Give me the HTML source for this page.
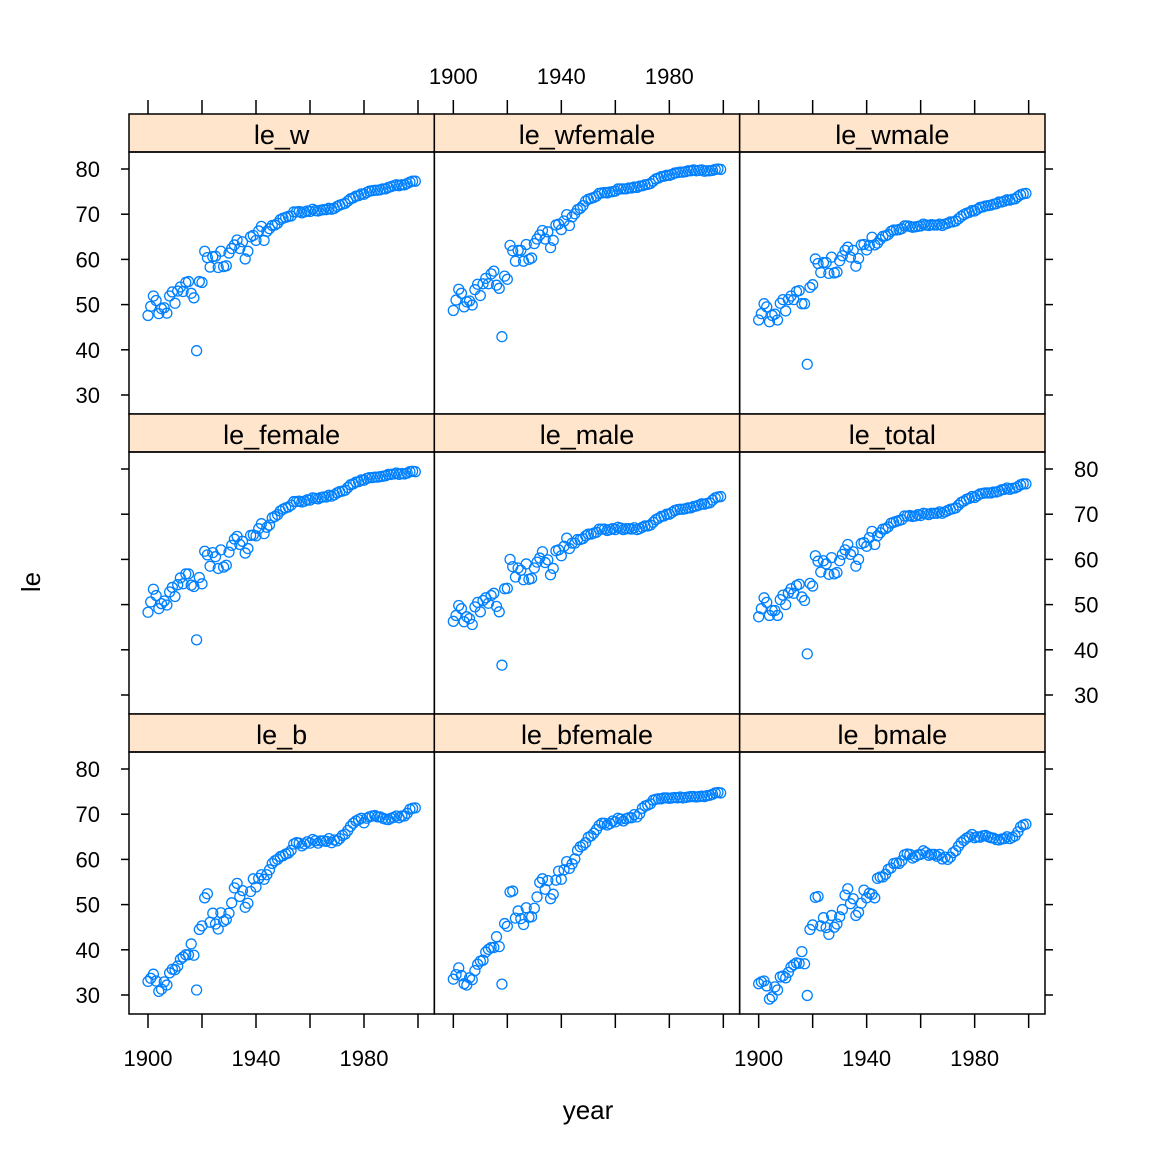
<!DOCTYPE html>
<html><head><meta charset="utf-8"><style>
html,body{margin:0;padding:0;background:#fff;}
svg text{font-family:"Liberation Sans",Arial,sans-serif;fill:#000;}
</style></head><body>
<svg id="chart" width="1152" height="1152" xmlns="http://www.w3.org/2000/svg">
<rect width="1152" height="1152" fill="#fff"/>
<text x="0" y="0" font-size="26" text-anchor="middle" transform="translate(40,582) rotate(-90)">le</text>
<text x="588" y="1119" font-size="26" text-anchor="middle">year</text>
</svg>
<script>
const panelNames = ["le_w","le_wfemale","le_wmale","le_female","le_male","le_total","le_b","le_bfemale","le_bmale"];
const xTicks = [1900,1920,1940,1960,1980,2000];
const xTickLabels = ["1900","","1940","","1980",""];
const yTicks = [30,40,50,60,70,80];
const le_w = [47.6,49.6,51.9,50.9,48.0,49.1,49.3,48.1,51.9,52.8,50.3,53.0,53.9,52.9,54.9,55.1,52.5,51.5,39.8,55.1,54.9,61.8,60.4,58.3,60.6,60.7,58.2,61.8,58.4,58.6,61.4,62.4,63.2,64.3,62.4,63.9,60.1,61.8,65.0,65.3,64.2,66.3,67.3,64.2,66.2,66.8,67.5,67.6,68.0,68.8,69.1,69.3,69.5,69.6,70.5,70.5,70.6,70.3,70.5,70.7,70.6,71.1,70.8,70.7,70.9,71.0,71.0,71.3,71.1,71.3,71.7,72.0,72.2,72.4,72.9,73.4,73.6,74.0,74.1,74.5,74.4,74.8,75.1,75.2,75.3,75.3,75.4,75.6,75.6,75.9,76.1,76.3,76.5,76.3,76.5,76.5,76.8,77.1,77.3,77.3];
const le_wfemale = [48.7,51.0,53.4,52.5,49.5,50.6,50.8,49.9,53.3,54.5,52.0,54.6,55.8,54.6,56.8,57.4,54.3,53.6,42.9,56.3,55.6,63.1,61.9,59.6,62.0,62.0,59.6,63.3,60.0,60.3,63.5,64.5,65.4,66.4,64.5,66.1,62.6,64.2,67.6,67.8,66.6,68.5,69.9,67.5,69.4,70.1,71.0,71.3,71.9,72.9,73.3,73.5,73.7,74.0,74.6,74.7,74.8,74.7,74.9,75.0,75.1,75.6,75.6,75.6,75.6,75.8,75.8,76.0,75.9,76.2,76.3,76.5,76.6,76.8,77.3,77.8,78.0,78.3,78.4,78.6,78.6,78.8,79.1,79.2,79.3,79.3,79.4,79.6,79.6,79.8,79.6,79.7,79.8,79.5,79.6,79.6,79.7,79.9,80.0,79.9];
const le_wmale = [46.6,48.0,50.2,49.5,46.2,47.6,47.9,46.6,50.3,51.1,48.6,51.1,51.9,51.1,52.9,53.1,50.2,50.2,36.8,53.8,54.4,60.1,59.1,57.1,59.3,59.3,56.9,60.5,57.0,57.2,59.7,60.8,62.0,62.7,60.5,62.0,58.5,60.2,63.2,63.3,62.1,63.1,64.9,63.2,63.6,64.4,65.1,65.2,65.5,66.2,66.5,66.5,66.6,66.8,67.4,67.4,67.3,67.1,67.2,67.3,67.4,67.8,67.6,67.5,67.7,67.6,67.6,67.8,67.5,67.8,68.0,68.3,68.3,68.5,69.0,69.5,69.9,70.2,70.4,70.8,70.7,71.1,71.5,71.6,71.8,71.9,72.0,72.2,72.3,72.7,72.7,72.9,73.2,73.1,73.3,73.4,73.9,74.3,74.5,74.6];
const le_female = [48.3,50.6,53.4,52.0,49.1,50.2,50.8,49.9,52.8,53.8,51.8,54.4,55.9,54.6,56.8,56.8,54.3,54.0,42.2,56.0,54.6,61.8,61.0,58.5,61.5,60.6,58.0,62.1,58.3,58.7,61.6,63.1,64.5,65.1,63.3,64.0,61.4,62.4,65.3,65.4,65.2,66.8,67.9,65.7,67.1,67.6,69.2,69.5,69.9,70.7,71.1,71.4,71.6,72.0,72.8,72.8,72.9,72.7,72.9,73.2,73.1,73.6,73.5,73.4,73.7,73.8,73.8,74.2,74.0,74.3,74.7,75.0,75.1,75.3,75.9,76.5,76.7,77.1,77.2,77.6,77.5,77.9,78.1,78.1,78.2,78.2,78.3,78.4,78.5,78.8,78.8,78.9,79.1,78.8,79.0,78.9,79.1,79.4,79.5,79.4];
const le_male = [46.3,47.6,49.8,49.1,46.2,47.3,46.9,45.6,49.5,50.5,48.4,50.9,51.5,50.3,52.0,52.5,49.6,48.4,36.6,53.5,53.6,60.0,58.4,56.1,58.1,57.6,55.5,59.0,55.6,55.8,58.1,59.4,60.3,61.7,59.3,59.9,56.6,58.0,61.9,62.1,60.8,62.9,64.7,62.4,63.6,63.6,64.4,64.4,64.6,65.2,65.6,65.6,65.8,66.0,66.7,66.7,66.7,66.4,66.6,66.8,66.6,67.1,66.9,66.6,66.8,66.8,66.7,67.0,66.6,66.8,67.1,67.4,67.4,67.6,68.2,68.8,69.1,69.5,69.6,70.0,70.0,70.4,70.8,71.0,71.1,71.1,71.2,71.4,71.4,71.7,71.8,72.0,72.3,72.2,72.4,72.5,73.1,73.6,73.8,73.9];
const le_total = [47.3,49.1,51.5,50.5,47.6,48.7,48.7,47.6,51.1,52.1,50.0,52.6,53.5,52.5,54.2,54.5,51.7,50.9,39.1,54.7,54.1,60.8,59.6,57.2,59.7,59.0,56.7,60.4,56.8,57.1,59.7,61.1,62.1,63.3,61.1,61.7,58.5,60.0,63.5,63.7,62.9,64.8,66.2,63.3,65.2,65.9,66.7,66.8,67.2,68.0,68.2,68.4,68.6,68.8,69.6,69.6,69.7,69.5,69.6,69.9,69.7,70.2,70.1,69.9,70.2,70.2,70.2,70.5,70.2,70.5,70.8,71.1,71.2,71.4,72.0,72.6,72.9,73.3,73.5,73.9,73.7,74.1,74.5,74.6,74.7,74.7,74.7,74.9,74.9,75.1,75.4,75.5,75.8,75.5,75.7,75.8,76.1,76.5,76.7,76.7];
const le_b = [33.0,33.7,34.6,33.1,30.8,31.3,32.9,32.2,34.9,35.7,35.6,36.4,37.9,38.4,38.9,38.9,41.3,38.8,31.1,44.5,45.3,51.5,52.4,46.1,48.1,45.7,44.6,48.2,46.3,46.7,48.1,50.4,53.7,54.7,51.8,53.1,49.4,50.3,52.9,55.7,53.9,55.8,56.6,55.6,56.6,57.7,59.1,59.7,60.0,60.6,60.8,61.2,61.4,62.0,63.4,63.7,63.6,63.0,63.4,63.9,63.6,64.4,64.1,63.6,64.1,64.1,64.0,64.6,63.7,64.3,64.1,64.6,65.3,65.6,66.4,67.3,68.0,68.5,68.8,69.1,68.1,69.1,69.4,69.6,69.7,69.4,69.4,69.1,68.9,68.8,69.1,69.3,69.6,69.2,69.6,69.6,70.2,71.1,71.3,71.4];
const le_bfemale = [33.5,34.5,36.0,34.3,32.5,32.2,33.8,33.4,35.4,36.8,37.5,37.7,39.5,40.1,40.5,40.5,42.9,40.7,32.4,45.8,45.2,52.8,53.0,47.0,48.6,46.9,45.6,49.3,47.2,47.3,49.2,51.7,54.9,55.7,53.4,55.3,51.3,52.3,55.4,57.4,55.6,57.7,59.5,58.0,59.0,60.1,62.0,62.8,63.1,63.7,64.9,65.2,65.8,66.6,67.5,68.0,68.0,67.6,67.9,68.5,68.3,69.1,68.9,68.5,69.0,69.2,69.2,69.9,69.4,70.1,71.3,71.8,72.0,72.3,73.1,73.3,73.4,73.4,73.6,73.6,73.5,73.6,73.7,73.6,73.8,73.6,73.7,73.8,73.9,73.9,73.8,73.9,74.0,73.9,74.1,74.2,74.4,74.7,74.8,74.7];
const le_bmale = [32.5,32.9,33.1,32.0,29.1,29.6,31.8,31.1,34.0,34.2,33.8,35.0,36.2,36.7,37.1,37.0,39.6,36.9,29.9,44.5,45.5,51.6,51.8,45.3,47.1,44.9,43.4,47.6,45.0,45.7,47.3,48.9,52.1,53.5,50.2,51.3,47.6,48.3,50.3,53.2,51.5,52.5,52.3,51.5,55.8,56.1,56.1,56.7,57.8,58.1,59.1,59.2,59.1,59.7,61.0,61.2,61.1,60.3,60.6,61.0,61.1,61.9,61.5,60.9,61.1,61.1,60.7,61.1,60.1,60.5,60.0,60.5,61.5,61.9,62.9,63.7,64.2,64.7,65.0,65.5,64.8,65.0,64.9,65.2,65.3,65.0,64.8,64.7,64.4,64.3,64.5,64.6,65.0,64.6,64.9,65.2,66.1,67.2,67.6,67.8];
const seriesList = [le_w,le_wfemale,le_wmale,le_female,le_male,le_total,le_b,le_bfemale,le_bmale];

const svg = document.getElementById('chart');
const NS = 'http://www.w3.org/2000/svg';
function mk(tag, attrs, parent){ const e=document.createElementNS(NS,tag); for(const k in attrs) e.setAttribute(k,attrs[k]); (parent||svg).appendChild(e); return e; }
const colW = 305.33, rowH = 300, top0 = 114, left0 = 129, stripH = 38;
function colX(c){ return left0 + colW*c; }
function xScale(c, yr){ return colX(c) + 19 + (yr-1900)*2.7; }
function rowTop(r){ return top0 + rowH*r; }
function yScale(r, v){ return rowTop(r) + rowH - 19 - (v-30)*4.52; }

for(let i=0;i<9;i++){
  const r=Math.floor(i/3), c=i%3;
  const g = mk('g',{});
  
  
  const st = mk('rect',{x:colX(c),y:rowTop(r),width:colW,height:stripH,fill:'#ffe5cc',stroke:'#000','stroke-width':1.5},g);
  
  
  const t = mk('text',{x:colX(c)+colW/2,y:rowTop(r)+30,'font-size':27,'text-anchor':'middle'},g);
  t.textContent = panelNames[i];
  
  
  const pr = mk('rect',{x:colX(c),y:rowTop(r)+stripH,width:colW,height:rowH-stripH,fill:'none',stroke:'#000','stroke-width':1.5},g);
  
  
  const data = seriesList[i];
  for(let k=0;k<data.length;k++){
    const p = mk('circle',{cx:xScale(c,1900+k),cy:yScale(r,data[k]),r:5,fill:'none',stroke:'#0080ff','stroke-width':1.3},g);
    
    
  }
}
// y axes
for(let r=0;r<3;r++){
  const leftLabels = (r!==1);
  for(const v of yTicks){
    const y=yScale(r,v);
    const lt = mk('line',{x1:left0-8,x2:left0,y1:y,y2:y,stroke:'#000','stroke-width':1.5});
    
    
    const rx=colX(3);
    const rt = mk('line',{x1:rx,x2:rx+8,y1:y,y2:y,stroke:'#000','stroke-width':1.5});
    
    
    const tx = mk('text',{x: leftLabels? left0-29 : rx+29, y:y+8,'font-size':22,'text-anchor': leftLabels?'end':'start'});
    tx.textContent = String(v);
    
    
  }
}
// x axes
for(let c=0;c<3;c++){
  for(let j=0;j<xTicks.length;j++){
    const x=xScale(c,xTicks[j]);
    const tt = mk('line',{x1:x,x2:x,y1:top0-14,y2:top0,stroke:'#000','stroke-width':1.5});
    
    
    const by=rowTop(3);
    const bt = mk('line',{x1:x,x2:x,y1:by,y2:by+14,stroke:'#000','stroke-width':1.5});
    
    
    if(xTickLabels[j]){
      const ty = (c===1) ? top0-30 : by+52;
      const tx = mk('text',{x:x,y:ty,'font-size':22,'text-anchor':'middle'});
      tx.textContent = xTickLabels[j];
      
      
    }
  }
}
</script>
</body></html>
